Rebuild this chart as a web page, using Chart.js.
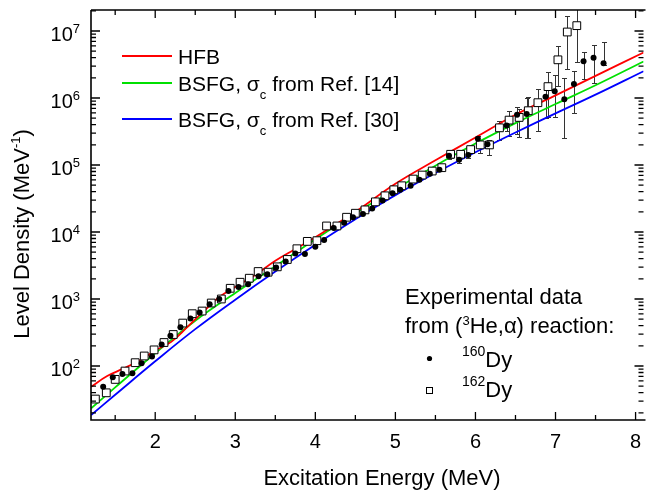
<!DOCTYPE html>
<html>
<head>
<meta charset="utf-8">
<script src="https://cdn.jsdelivr.net/npm/chart.js@4.4.1/dist/chart.umd.min.js"></script>
<style>
  html, body { margin: 0; padding: 0; background: #fff; }
  #wrap { width: 650px; height: 493px; }
</style>
</head>
<body>
<div id="wrap"><canvas id="levelChart" width="650" height="493"></canvas></div>
<script>
// Model curves (energy in MeV, level density in 1/MeV)
const hfbX = [1.2, 1.4, 1.6, 1.8, 2.0, 2.2, 2.4, 2.6, 2.8, 3.0, 3.25, 3.5, 3.75, 4.0, 4.25, 4.5, 5.0, 5.5, 6.0, 6.5, 7.0, 7.5, 8.1];
const hfbY = [49, 70.8, 91.2, 120, 170, 229, 380, 646, 1072, 1514, 2291, 3715, 5559, 8318, 12880, 19950, 52480, 117500, 257000, 562300, 1096000, 2138000, 4786000];

const bsfg14X = [1.2, 1.5, 2.0, 2.5, 3.0, 3.5, 4.0, 4.5, 5.0, 5.5, 6.0, 6.5, 7.0, 7.5, 8.1];
const bsfg14Y = [23.4, 47.9, 154.9, 473.2, 1230, 3090, 7762, 19050, 43650, 97720, 208900, 421700, 812800, 1549000, 3508000];

const bsfg30X = [1.2, 1.5, 2.0, 2.5, 3.0, 3.5, 4.0, 4.5, 5.0, 5.5, 6.0, 6.5, 7.0, 7.5, 8.1];
const bsfg30Y = [18.6, 37.2, 117.5, 354.8, 977.2, 2570, 6457, 15490, 35480, 75860, 154900, 305500, 588800, 1122000, 2512000];

// Experimental data, 160Dy (filled circles)
const dy160X = [1.35, 1.47, 1.59, 1.715, 1.83, 1.96, 2.08, 2.19, 2.315, 2.44, 2.555, 2.68, 2.80, 2.915, 3.04, 3.16, 3.29, 3.40, 3.51, 3.63,
                3.75, 3.87, 4.00, 4.11, 4.23, 4.36, 4.47, 4.595, 4.71, 4.84, 4.965, 5.06, 5.19, 5.30, 5.43, 5.55, 5.67, 5.795, 5.91, 6.03,
                6.15, 6.39, 6.52, 6.64, 6.875, 6.99, 7.11, 7.23, 7.35, 7.475, 7.60];
const dy160Y = [49, 68, 76, 78, 110, 138, 209, 282, 380, 513, 631, 832, 1000, 1318, 1514, 1660, 2188, 2344, 2951, 3631,
                4786, 4677, 6026, 7586, 11480, 13800, 16600, 18620, 22390, 29510, 38020, 42660, 48980, 60260, 74130, 85110, 138000, 120200, 141300, 245500,
                204200, 389000, 562300, 575400, 1047000, 1259000, 955000, 1622000, 3548000, 3981000, 3311000];
const dy160ErrX  = [5.67, 5.795, 5.91, 6.03, 6.15, 6.39, 6.52, 6.64, 6.875, 6.99, 7.11, 7.23, 7.35, 7.475, 7.60];
const dy160ErrLo = [123000, 107100, 125900, 208900, 182000, 323600, 288400, 251200, 501200, 512900, 257000, 602600, 1950000, 1660000, 3090000];
const dy160ErrHi = [154800, 134900, 158500, 269200, 229100, 446700, 724400, 1000000, 1380000, 2188000, 1995000, 2570000, 4898000, 6166000, 6761000];

// Experimental data, 162Dy (open squares)
const dy162X = [1.253, 1.389, 1.50, 1.623, 1.75, 1.863, 1.986, 2.11, 2.225, 2.344, 2.463, 2.586, 2.70, 2.826, 2.937, 3.06, 3.175, 3.286, 3.41, 3.525,
                3.65, 3.77, 3.90, 4.02, 4.14, 4.27, 4.39, 4.50, 4.62, 4.75, 4.87, 4.98, 5.08, 5.22, 5.335, 5.46, 5.58, 5.69, 5.815, 5.94,
                6.06, 6.175, 6.30, 6.42, 6.546, 6.66, 6.78, 6.906, 7.03, 7.147, 7.266];
const dy162Y = [32.1, 39.8, 63.1, 84.1, 112, 141, 174, 224, 295, 437, 603, 661, 871, 1000, 1445, 1778, 2042, 2570, 2512, 3020,
                3890, 5623, 7244, 7413, 12300, 12300, 16600, 19050, 21380, 28180, 34670, 42660, 48980, 61660, 70790, 81280, 91200, 144500, 144500, 169800,
                199500, 199500, 358900, 467700, 512900, 645700, 851100, 1479000, 3715000, 9661000, 12020000];
const dy162ErrX  = [5.69, 5.815, 5.94, 6.06, 6.175, 6.30, 6.42, 6.546, 6.66, 6.78, 6.906, 7.03, 7.147, 7.266];
const dy162ErrLo = [128800, 128800, 151300, 151400, 141300, 239900, 269200, 263000, 251200, 323600, 512900, 1514000, 2754000, 3467000];
const dy162ErrHi = [162100, 162100, 190500, 229100, 234400, 446700, 645700, 676100, 1023000, 1380000, 2455000, 6026000, 16600000, 25120000];

// Axes
const xTicks = [2, 3, 4, 5, 6, 7, 8];
const xMinorTicks = [1.5, 2.5, 3.5, 4.5, 5.5, 6.5, 7.5];
const yTicks = [1e2, 1e3, 1e4, 1e5, 1e6, 1e7];
const yTickExp = ['2', '3', '4', '5', '6', '7'];

const FONT = '"Liberation Sans", Arial, Helvetica, sans-serif';

function toPoints(xs, ys) {
    return xs.map((x, i) => ({ x: x, y: ys[i] }));
}

// draw a run of text pieces: [text, size, dy]
function textRun(ctx, x, y, runs, align) {
    let total = 0;
    runs.forEach(r => { ctx.font = r[1] + 'px ' + FONT; total += ctx.measureText(r[0]).width; });
    let cx = align === 'right' ? x - total : (align === 'center' ? x - total / 2 : x);
    runs.forEach(r => {
        ctx.font = r[1] + 'px ' + FONT;
        ctx.fillText(r[0], cx, y + (r[2] || 0));
        cx += ctx.measureText(r[0]).width;
    });
}

const framePlugin = {
    id: 'frame',
    beforeDatasetsDraw(chart) {
        // error bars
        const { ctx, chartArea: a, scales: { x, y } } = chart;
        ctx.save();
        ctx.beginPath();
        ctx.rect(a.left, a.top, a.right - a.left, a.bottom - a.top);
        ctx.clip();
        ctx.strokeStyle = '#333';
        ctx.lineWidth = 1;
        [[dy160ErrX, dy160ErrLo, dy160ErrHi], [dy162ErrX, dy162ErrLo, dy162ErrHi]].forEach(([xs, lo, hi]) => {
            xs.forEach((xv, i) => {
                const px = Math.round(x.getPixelForValue(xv)) + 0.5;
                const p1 = Math.round(y.getPixelForValue(lo[i])) + 0.5;
                const p2 = Math.round(y.getPixelForValue(hi[i])) + 0.5;
                ctx.beginPath();
                ctx.moveTo(px, p1); ctx.lineTo(px, p2);
                ctx.moveTo(px - 2.5, p1); ctx.lineTo(px + 2.5, p1);
                ctx.moveTo(px - 2.5, p2); ctx.lineTo(px + 2.5, p2);
                ctx.stroke();
            });
        });
        ctx.restore();
    },
    afterDatasetsDraw(chart) {
        const { ctx, chartArea: a, scales: { x, y } } = chart;
        ctx.save();
        ctx.strokeStyle = '#000';
        ctx.lineWidth = 1.6;
        ctx.beginPath();
        ctx.moveTo(a.left, a.top); ctx.lineTo(a.right + 2, a.top);
        ctx.moveTo(a.left, a.top); ctx.lineTo(a.left, a.bottom);
        ctx.lineTo(a.right + 2, a.bottom);
        ctx.stroke();

        ctx.lineWidth = 1.3;
        ctx.beginPath();
        // x ticks, bottom and top, pointing inward
        xTicks.concat(xMinorTicks).forEach(v => {
            const len = xTicks.includes(v) ? 8 : 5;
            const px = x.getPixelForValue(v);
            ctx.moveTo(px, a.bottom); ctx.lineTo(px, a.bottom - len);
            ctx.moveTo(px, a.top); ctx.lineTo(px, a.top + len);
        });
        // y ticks, left and right, with log minors
        for (let d = 10; d <= 1e7; d *= 10) {
            for (let m = 1; m <= 9; m++) {
                const v = d * m;
                if (v < y.min || v > y.max) continue;
                const len = m === 1 ? 9 : 5;
                const py = y.getPixelForValue(v);
                ctx.moveTo(a.left, py); ctx.lineTo(a.left + len, py);
                ctx.moveTo(a.right, py); ctx.lineTo(a.right - len, py);
            }
        }
        ctx.stroke();
        ctx.restore();
    },
    afterDraw(chart) {
        const { ctx, chartArea: a, scales: { x, y }, data } = chart;
        ctx.save();
        ctx.fillStyle = '#000';
        ctx.textBaseline = 'alphabetic';
        ctx.textAlign = 'left';

        // tick labels
        xTicks.forEach(v => {
            textRun(ctx, x.getPixelForValue(v), 448, [[String(v), 20]], 'center');
        });
        yTicks.forEach((v, i) => {
            const py = y.getPixelForValue(v);
            textRun(ctx, 80, py + 10, [['10', 20], [yTickExp[i], 13, -8]], 'right');
        });

        // axis titles
        textRun(ctx, 382, 485, [['Excitation Energy (MeV)', 22]], 'center');
        ctx.save();
        ctx.translate(29, 234);
        ctx.rotate(-Math.PI / 2);
        textRun(ctx, 0, 0, [['Level Density (MeV', 22], ['-1', 13, -9], [')', 22]], 'center');
        ctx.restore();

        // model legend
        const rows = [
            { ds: 2, y: 56, runs: [['HFB', 21]] },
            { ds: 3, y: 83, runs: [['BSFG, \u03c3', 21], ['c', 13, 8], [' from Ref. [14]', 21]] },
            { ds: 4, y: 119, runs: [['BSFG, \u03c3', 21], ['c', 13, 8], [' from Ref. [30]', 21]] }
        ];
        rows.forEach(r => {
            ctx.strokeStyle = data.datasets[r.ds].borderColor;
            ctx.lineWidth = 1.8;
            ctx.beginPath();
            ctx.moveTo(122, r.y); ctx.lineTo(172, r.y);
            ctx.stroke();
            textRun(ctx, 178, r.y + 7.5, r.runs, 'left');
        });

        // experimental legend
        textRun(ctx, 405, 304, [['Experimental data', 22]], 'left');
        textRun(ctx, 405, 333, [['from (', 22], ['3', 13, -8], ['He,\u03b1) reaction:', 22]], 'left');
        ctx.beginPath();
        ctx.arc(429.5, 358.5, 2.6, 0, Math.PI * 2);
        ctx.fill();
        ctx.strokeStyle = '#000';
        ctx.lineWidth = 1;
        ctx.strokeRect(426.5, 387.5, 6, 6);
        textRun(ctx, 462, 366.5, [['160', 14, -11], ['Dy', 22]], 'left');
        textRun(ctx, 462, 396.5, [['162', 14, -11], ['Dy', 22]], 'left');
        ctx.restore();
    }
};

function initChart() {
    const ctx = document.getElementById('levelChart').getContext('2d');
    new Chart(ctx, {
        type: 'scatter',
        data: {
            datasets: [
                { label: '160Dy', data: toPoints(dy160X, dy160Y), pointStyle: 'circle', pointRadius: 3,
                  backgroundColor: '#000', borderColor: '#000', borderWidth: 0 },
                { label: '162Dy', data: toPoints(dy162X, dy162Y), pointStyle: 'rect', pointRadius: 5.5,
                  backgroundColor: '#fff', borderColor: '#000', borderWidth: 1 },
                { label: 'HFB', data: toPoints(hfbX, hfbY), showLine: true, pointRadius: 0,
                  borderColor: '#ff0000', borderWidth: 1.8, tension: 0.4 },
                { label: 'BSFG 14', data: toPoints(bsfg14X, bsfg14Y), showLine: true, pointRadius: 0,
                  borderColor: '#00e000', borderWidth: 1.8, tension: 0.4 },
                { label: 'BSFG 30', data: toPoints(bsfg30X, bsfg30Y), showLine: true, pointRadius: 0,
                  borderColor: '#0000ff', borderWidth: 1.8, tension: 0.4 }
            ]
        },
        options: {
            responsive: false,
            animation: false,
            devicePixelRatio: 1,
            layout: { padding: { left: 91, top: 10, right: 0, bottom: 73 } },
            plugins: { legend: { display: false }, tooltip: { enabled: false } },
            scales: {
                x: { type: 'linear', min: 1.198, max: 8.099, display: false },
                y: { type: 'logarithmic', min: 15.63, max: 2.058e7, display: false }
            }
        },
        plugins: [framePlugin]
    });
}

initChart();
</script>
</body>
</html>
